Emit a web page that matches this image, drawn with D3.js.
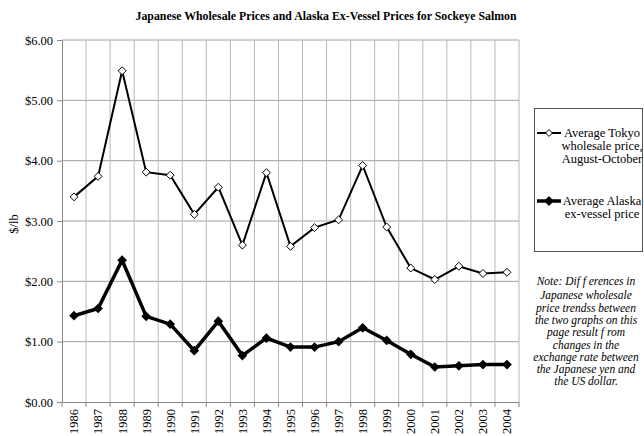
<!DOCTYPE html>
<html>
<head>
<meta charset="utf-8">
<script src="https://cdn.jsdelivr.net/npm/d3@7"></script>
<style>
  body { margin: 0; background: #fff; }
  svg text { font-family: "Liberation Serif", "Times New Roman", Times, "DejaVu Serif", serif; }
</style>
</head>
<body>
<div id="chart"><svg width="644" height="436"></svg></div>
<script>
// Data
let years = ["1986","1987","1988","1989","1990","1991","1992","1993","1994","1995",
             "1996","1997","1998","1999","2000","2001","2002","2003","2004"];
let tokyo = [3.40, 3.74, 5.49, 3.81, 3.76, 3.11, 3.56, 2.60, 3.80, 2.58,
             2.89, 3.02, 3.92, 2.90, 2.22, 2.03, 2.25, 2.13, 2.15];
let alaska = [1.43, 1.55, 2.35, 1.42, 1.29, 0.85, 1.34, 0.77, 1.06, 0.91,
              0.91, 1.00, 1.23, 1.02, 0.79, 0.58, 0.60, 0.62, 0.62];
let yTicks = [0, 1, 2, 3, 4, 5, 6];
let legendLabels = [["Average Tokyo", "wholesale price,", "August-October"],
                    ["Average Alaska", "ex-vessel price"]];
let noteLines = ["Note:  Dif f erences in", "Japanese wholesale", "price trendss between",
                 "the two graphs on this", "page result f rom", "changes in the",
                 "exchange rate between", "the Japanese yen and", "the US dollar."];

let svg = d3.select("div#chart svg");
let plot = { left: 62, right: 519, top: 40, bottom: 402 };

let x = d3.scaleBand().domain(years).range([plot.left, plot.right]);
let y = d3.scaleLinear().domain([0, 6]).range([plot.bottom, plot.top]);

// Title
svg.append("text")
  .attr("x", 326)
  .attr("y", 20)
  .attr("text-anchor", "middle")
  .attr("textLength", 381)
  .attr("lengthAdjust", "spacingAndGlyphs")
  .style("font-size", "12.5px")
  .style("font-weight", "bold")
  .text("Japanese Wholesale Prices and Alaska Ex-Vessel Prices for Sockeye Salmon");

// Gridlines
let grid = svg.append("g").attr("class", "grid");
grid.selectAll("line.h")
  .data(yTicks.filter(d => d > 0))
  .enter().append("line")
    .attr("x1", plot.left).attr("x2", plot.right)
    .attr("y1", d => y(d)).attr("y2", d => y(d))
    .attr("stroke", "#a0a0a0");
grid.selectAll("line.v")
  .data(years.slice(1).map(d => x(d)).concat([plot.right]))
  .enter().append("line")
    .attr("x1", d => d).attr("x2", d => d)
    .attr("y1", plot.top).attr("y2", plot.bottom)
    .attr("stroke", "#b8b8b8");

// Y axis
let yAxis = svg.append("g")
  .attr("transform", "translate(" + plot.left + ",0)")
  .call(d3.axisLeft(y).tickValues(yTicks).tickSize(5).tickPadding(4).tickFormat(d => "$" + d.toFixed(2)));
yAxis.attr("font-family", null);
yAxis.select(".domain").attr("stroke", "#888");
yAxis.selectAll(".tick line").attr("stroke", "#888");
yAxis.selectAll("text").style("font-size", "12.5px").attr("fill", "#000");

svg.append("text")
  .attr("transform", "rotate(-90)")
  .attr("x", -224)
  .attr("y", 14)
  .attr("dy", "0.35em")
  .attr("text-anchor", "middle")
  .style("font-size", "12.5px")
  .text("$/lb");

// X axis
let xAxis = svg.append("g")
  .attr("transform", "translate(0," + plot.bottom + ")")
  .call(d3.axisBottom(x).tickSize(0).tickFormat(d => d));
xAxis.attr("font-family", null);
xAxis.select(".domain").attr("stroke", "#888");
xAxis.selectAll(".tick text")
  .attr("transform", "rotate(-90)")
  .attr("x", -7)
  .attr("y", 0)
  .attr("dy", "0.35em")
  .attr("text-anchor", "end")
  .attr("fill", "#000")
  .style("font-size", "12.5px");
xAxis.selectAll("line.sep")
  .data(years.map(d => x(d)).concat([plot.right]))
  .enter().append("line")
    .attr("class", "sep")
    .attr("x1", d => d).attr("x2", d => d)
    .attr("y1", 0).attr("y2", 5)
    .attr("stroke", "#888");

// Lines
let line = d3.line()
  .x((d, i) => x(years[i]) + x.bandwidth() / 2)
  .y(d => y(d));
let diamond = d3.symbol().type(d3.symbolDiamond2);

svg.append("path")
  .datum(tokyo)
  .attr("d", line)
  .attr("fill", "none")
  .attr("stroke", "#000")
  .attr("stroke-width", 2);
svg.append("g").selectAll("path")
  .data(tokyo)
  .enter().append("path")
    .attr("d", diamond.size(40)())
    .attr("transform", (d, i) => "translate(" + (x(years[i]) + x.bandwidth() / 2) + "," + y(d) + ")")
    .attr("fill", "#fff")
    .attr("stroke", "#000")
    .attr("stroke-width", 1);

svg.append("path")
  .datum(alaska)
  .attr("d", line)
  .attr("fill", "none")
  .attr("stroke", "#000")
  .attr("stroke-width", 3.5);
svg.append("g").selectAll("path")
  .data(alaska)
  .enter().append("path")
    .attr("d", diamond.size(60)())
    .attr("transform", (d, i) => "translate(" + (x(years[i]) + x.bandwidth() / 2) + "," + y(d) + ")")
    .attr("fill", "#000");

// Legend
let legend = svg.append("g").attr("class", "legend");
legend.append("rect")
  .attr("x", 534.5).attr("y", 108.5)
  .attr("width", 108).attr("height", 143)
  .attr("fill", "#fff")
  .attr("stroke", "#555");

let legendY = [133, 201];
legendLabels.forEach((lines, k) => {
  legend.append("line")
    .attr("x1", 537).attr("x2", 561)
    .attr("y1", legendY[k]).attr("y2", legendY[k])
    .attr("stroke", "#000")
    .attr("stroke-width", k == 0 ? 2 : 3.5);
  legend.append("path")
    .attr("d", diamond.size(k == 0 ? 30 : 50)())
    .attr("transform", "translate(549," + legendY[k] + ")")
    .attr("fill", k == 0 ? "#fff" : "#000")
    .attr("stroke", "#000");
  lines.forEach((t, j) => {
    legend.append("text")
      .attr("x", 602)
      .attr("y", legendY[k] + j * 13)
      .attr("dy", "0.35em")
      .attr("text-anchor", "middle")
      .style("font-size", "12.5px")
      .text(t);
  });
});

// Note
let note = svg.append("g").attr("class", "note");
noteLines.forEach((t, j) => {
  note.append("text")
    .attr("x", 586)
    .attr("y", (j == 0 ? 281 : 283 + j * 12.3))
    .attr("dy", "0.35em")
    .attr("text-anchor", "middle")
    .style("font-size", "11.5px")
    .style("font-style", "italic")
    .text(t);
});
</script>
</body>
</html>
